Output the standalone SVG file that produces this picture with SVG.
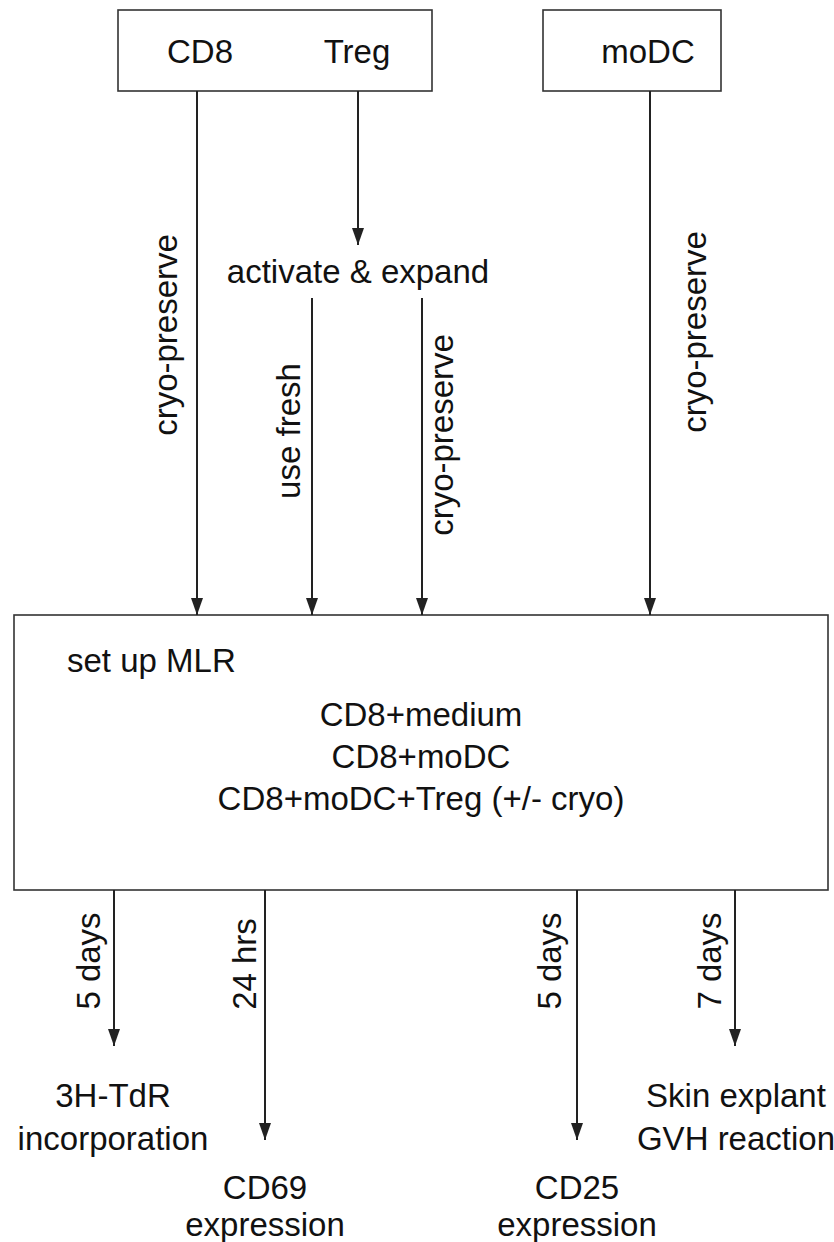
<svg xmlns="http://www.w3.org/2000/svg" width="834" height="1242" viewBox="0 0 834 1242">
  <style>
    .box { fill: #ffffff; stroke: #333333; stroke-width: 1.6; }
    .lbl { font-family: "Liberation Sans", Arial, sans-serif; font-size: 33px; fill: #111111; }
    .mid { text-anchor: middle; }
    .edge { stroke: #222222; stroke-width: 2; fill: none; marker-end: url(#arrow); }
  </style>
  <defs>
    <marker id="arrow" viewBox="0 0 17 12" refX="17" refY="6" markerWidth="17" markerHeight="12" markerUnits="userSpaceOnUse" orient="auto">
      <path d="M0,0 L17,6 L0,12 Z" fill="#222222"/>
    </marker>
  </defs>
  <rect width="834" height="1242" fill="#ffffff"/>

  <!-- source cells -->
  <g id="node-cd8-treg">
    <rect class="box" x="118" y="10" width="314" height="81"/>
    <text class="lbl mid" x="200" y="63">CD8</text>
    <text class="lbl mid" x="357" y="63">Treg</text>
  </g>
  <g id="node-modc">
    <rect class="box" x="543" y="10" width="178" height="81"/>
    <text class="lbl mid" x="648" y="63">moDC</text>
  </g>

  <g id="node-activate">
    <text class="lbl mid" x="358" y="283">activate &amp; expand</text>
  </g>

  <!-- co-culture setup -->
  <g id="node-mlr">
    <rect class="box" x="14" y="615" width="814" height="275"/>
    <text class="lbl" x="67" y="672">set up MLR</text>
    <text class="lbl mid" x="421" y="726">CD8+medium</text>
    <text class="lbl mid" x="421" y="768">CD8+moDC</text>
    <text class="lbl mid" x="421" y="810">CD8+moDC+Treg (+/- cryo)</text>
  </g>

  <!-- readouts -->
  <g id="node-tdr">
    <text class="lbl mid" x="113" y="1107">3H-TdR</text>
    <text class="lbl mid" x="113" y="1150">incorporation</text>
  </g>
  <g id="node-cd69">
    <text class="lbl mid" x="265" y="1199">CD69</text>
    <text class="lbl mid" x="265" y="1236">expression</text>
  </g>
  <g id="node-cd25">
    <text class="lbl mid" x="577" y="1199">CD25</text>
    <text class="lbl mid" x="577" y="1236">expression</text>
  </g>
  <g id="node-skin">
    <text class="lbl mid" x="736" y="1107">Skin explant</text>
    <text class="lbl mid" x="736" y="1150">GVH reaction</text>
  </g>

  <!-- connectors -->
  <g id="connectors">
    <line class="edge" x1="197" y1="91" x2="197" y2="615"/>
    <line class="edge" x1="358" y1="91" x2="358" y2="245"/>
    <line class="edge" x1="650" y1="91" x2="650" y2="615"/>
    <line class="edge" x1="312" y1="298" x2="312" y2="615"/>
    <line class="edge" x1="422" y1="298" x2="422" y2="615"/>

    <line class="edge" x1="114" y1="890" x2="114" y2="1046"/>
    <line class="edge" x1="265" y1="890" x2="265" y2="1140"/>
    <line class="edge" x1="577" y1="890" x2="577" y2="1140"/>
    <line class="edge" x1="735" y1="890" x2="735" y2="1046"/>

    <!-- connector labels -->
    <text class="lbl mid" transform="translate(177,335) rotate(-90)">cryo-preserve</text>
    <text class="lbl mid" transform="translate(300,431) rotate(-90)">use fresh</text>
    <text class="lbl mid" transform="translate(453,435) rotate(-90)">cryo-preserve</text>
    <text class="lbl mid" transform="translate(706,332) rotate(-90)">cryo-preserve</text>

    <text class="lbl mid" transform="translate(100,961) rotate(-90)">5 days</text>
    <text class="lbl mid" transform="translate(256,964) rotate(-90)">24 hrs</text>
    <text class="lbl mid" transform="translate(561,961) rotate(-90)">5 days</text>
    <text class="lbl mid" transform="translate(721,961) rotate(-90)">7 days</text>
  </g>
</svg>
